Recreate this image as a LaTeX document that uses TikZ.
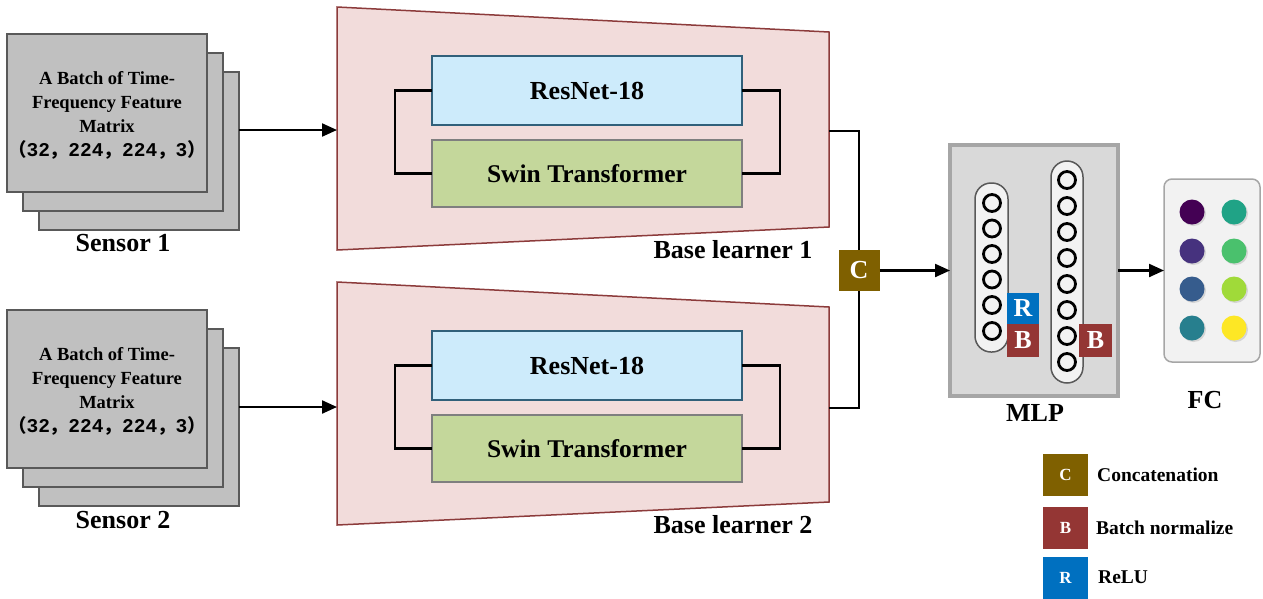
\documentclass[tikz,border=0pt]{standalone}
\usepackage{fontspec}
\setmainfont{Liberation Serif}
\newfontfamily\cjk{Noto Sans CJK SC}
\newfontfamily\digits{Liberation Mono}
\usetikzlibrary{arrows.meta,shadows}
\definecolor{sensorgray}{HTML}{C0C0C0}
\definecolor{sensorline}{HTML}{595959}
\definecolor{trapfill}{HTML}{F2DCDB}
\definecolor{trapline}{HTML}{8C3B3B}
\definecolor{resfill}{HTML}{CDEBFB}
\definecolor{resline}{HTML}{31607A}
\definecolor{swinfill}{HTML}{C4D79B}
\definecolor{swinline}{HTML}{7F7F7F}
\definecolor{cbrown}{HTML}{7F6000}
\definecolor{bred}{HTML}{943634}
\definecolor{rblue}{HTML}{0070C0}
\definecolor{mlpfill}{HTML}{D9D9D9}
\definecolor{mlpline}{HTML}{A6A6A6}
\definecolor{capfill}{HTML}{F2F2F2}
\definecolor{capline}{HTML}{595959}
\definecolor{v1}{HTML}{440154}
\definecolor{v2}{HTML}{20A386}
\definecolor{v3}{HTML}{46327E}
\definecolor{v4}{HTML}{4AC16D}
\definecolor{v5}{HTML}{365C8D}
\definecolor{v6}{HTML}{A0DA39}
\definecolor{v7}{HTML}{277F8E}
\definecolor{v8}{HTML}{FDE725}
\newcommand{\dimline}{{\cjk （}{\digits\fontsize{19.5}{24}\selectfont 32}{\cjk ，}{\digits\fontsize{19.5}{24}\selectfont 224}{\cjk ，}{\digits\fontsize{19.5}{24}\selectfont 224}{\cjk ，}{\digits\fontsize{19.5}{24}\selectfont 3}{\cjk ）}}
\begin{document}
\begin{tikzpicture}[x=1pt,y=-1pt,
  sensorbox/.style={draw=sensorline, fill=sensorgray, line width=1.2pt, minimum width=200pt, minimum height=158pt, inner sep=0pt, outer sep=0pt, anchor=north west},
  sensortext/.style={align=center, font=\fontsize{18.5}{24}\selectfont\bfseries},
  resbox/.style={draw=resline, fill=resfill, line width=1.5pt, minimum width=310pt, minimum height=69pt, inner sep=0pt, outer sep=0pt, font=\fontsize{26}{30}\selectfont\bfseries},
  swinbox/.style={draw=swinline, fill=swinfill, line width=1.5pt, minimum width=310pt, minimum height=67pt, inner sep=0pt, outer sep=0pt, font=\fontsize{25.5}{30}\selectfont\bfseries},
  trap/.style={draw=trapline, fill=trapfill, line width=1.5pt},
  lbl/.style={font=\fontsize{26}{30}\selectfont\bfseries, inner sep=0pt},
  conn/.style={line width=2.2pt},
  arr/.style={line width=2.2pt, -{Triangle[length=15pt,width=13pt]}},
  opbox/.style={inner sep=0pt, outer sep=0pt, text=white, font=\fontsize{26}{30}\selectfont\bfseries},
  legbox/.style={minimum width=45pt, minimum height=42pt, inner sep=0pt, outer sep=0pt, text=white, font=\fontsize{17}{20}\selectfont\bfseries},
  legtext/.style={anchor=west, inner sep=0pt, font=\fontsize{19.5}{22}\selectfont\bfseries},
  capsule/.style={draw=capline, fill=capfill, line width=1.5pt, rounded corners=16pt, inner sep=0pt},
  neuron/.style={circle, draw=black, line width=2.8pt, minimum size=17pt, inner sep=0pt, fill=capfill},
  dot/.style={circle, minimum size=25pt, inner sep=0pt, drop shadow={opacity=0.25, shadow xshift=1.5pt, shadow yshift=-1.5pt}}
]
\useasboundingbox (0,0) rectangle (1263,598);

% Sensor 1
\node[sensorbox] (s1c) at (39,72) {};
\node[sensorbox] (s1b) at (23,53) {};
\node[sensorbox] (s1a) at (7,34) {};
\node[sensortext] (s1t) at ([yshift=-2pt]s1a.center) {A Batch of Time-\\Frequency Feature\\Matrix\\\dimline};
\node[lbl] (sl1) at (123,243) {Sensor 1};

% Sensor 2
\node[sensorbox] (s2c) at (39,348) {};
\node[sensorbox] (s2b) at (23,329) {};
\node[sensorbox] (s2a) at (7,310) {};
\node[sensortext] (s2t) at ([yshift=-2pt]s2a.center) {A Batch of Time-\\Frequency Feature\\Matrix\\\dimline};
\node[lbl] (sl2) at (123,520) {Sensor 2};

% Base learner 1
\draw[trap] (337,7) -- (829,32) -- (829,227) -- (337,250) -- cycle;
\coordinate (t1in) at (337,130);
\coordinate (t1out) at (829,131);
\node[resbox] (r1) at (587,90.5) {ResNet-18};
\node[swinbox] (w1) at (587,173.5) {Swin Transformer};
\draw[conn] (r1.west) -- ++(-37,0) |- (w1.west);
\draw[conn] (r1.east) -- ++(38,0) |- (w1.east);
\node[lbl] (bl1) at (733,250) {Base learner 1};

% Base learner 2
\draw[trap] (337,282) -- (829,307) -- (829,502) -- (337,525) -- cycle;
\coordinate (t2in) at (337,407);
\coordinate (t2out) at (829,408);
\node[resbox] (r2) at (587,365.5) {ResNet-18};
\node[swinbox] (w2) at (587,448.5) {Swin Transformer};
\draw[conn] (r2.west) -- ++(-37,0) |- (w2.west);
\draw[conn] (r2.east) -- ++(38,0) |- (w2.east);
\node[lbl] (bl2) at (733,525) {Base learner 2};

% inputs
\draw[arr] (s1c.east |- t1in) -- (t1in);
\draw[arr] (s2c.east |- t2in) -- (t2in);

% Concatenation
\node[opbox, fill=cbrown, minimum width=41pt, minimum height=41pt] (C) at (859,270.5) {C};
\draw[conn] (t1out) -| (C.north);
\draw[conn] (t2out) -| (C.south);

% MLP
\node[draw=mlpline, fill=mlpfill, line width=4pt, minimum width=168pt, minimum height=251pt, inner sep=0pt, outer sep=0pt] (mlp) at (1034,270.5) {};
\node[capsule, minimum width=33pt, minimum height=169pt] (cap1) at (991.5,267.5) {};
\node[capsule, minimum width=32pt, minimum height=222pt] (cap2) at (1067,272) {};
\foreach \y [count=\i] in {203,228.5,254,279.5,305,331}
  \node[neuron] (na\i) at (992,\y) {};
\foreach \y [count=\i] in {180,206,232,258,284,310,336,362}
  \node[neuron] (nb\i) at (1067,\y) {};
\node[opbox, fill=rblue, minimum width=32pt, minimum height=31pt] (R1) at (1023,308) {R};
\node[opbox, fill=bred, minimum width=32pt, minimum height=33pt] (B1) at (1023,340.5) {B};
\node[opbox, fill=bred, minimum width=33pt, minimum height=33pt] (B2) at (1095.5,340.5) {B};
\node[lbl] (mlpl) at (1035,413) {MLP};

\draw[arr] (C.east) -- (mlp.west);

% FC
\node[draw=mlpline, fill=capfill, line width=1.5pt, rounded corners=8pt, minimum width=96pt, minimum height=183pt, inner sep=0pt, outer sep=0pt] (fc) at (1212,270.5) {};
\node[dot, fill=v1] (d1) at (1192,212) {};
\node[dot, fill=v2] (d2) at (1234,212) {};
\node[dot, fill=v3] (d3) at (1192,251) {};
\node[dot, fill=v4] (d4) at (1234,251) {};
\node[dot, fill=v5] (d5) at (1192,289) {};
\node[dot, fill=v6] (d6) at (1234,289) {};
\node[dot, fill=v7] (d7) at (1192,328) {};
\node[dot, fill=v8] (d8) at (1234,328) {};
\node[lbl] (fcl) at (1205,400) {FC};

\draw[arr] (mlp.east) -- (fc.west);

% Legend
\node[legbox, fill=cbrown] (lc) at (1065.5,475) {C};
\node[legtext] (lct) at (1097,475) {Concatenation};
\node[legbox, fill=bred] (lb) at (1065.5,527.5) {B};
\node[legtext] (lbt) at (1096,527.5) {Batch normalize};
\node[legbox, fill=rblue] (lr) at (1065.5,577.5) {R};
\node[legtext] (lrt) at (1098,577.5) {ReLU};
\end{tikzpicture}
\end{document}
